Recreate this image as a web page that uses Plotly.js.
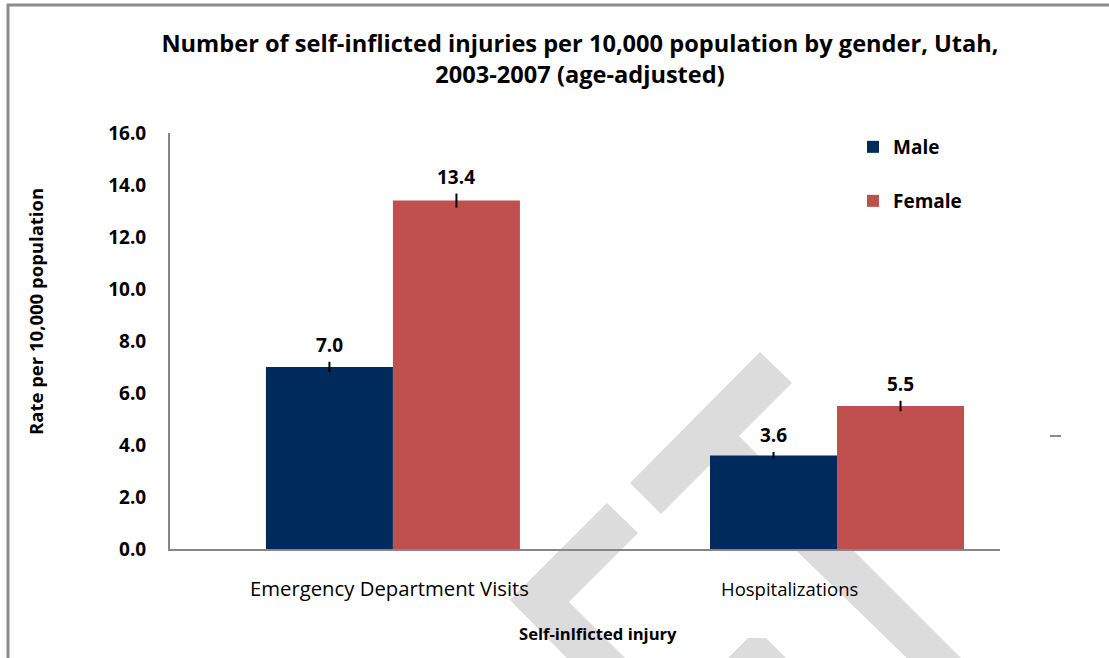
<!DOCTYPE html>
<html>
<head>
<meta charset="utf-8">
<script src="https://cdn.plot.ly/plotly-3.0.1.min.js"></script>
<style>
  html, body { margin: 0; padding: 0; background: #ffffff; }
  #chart { width: 1109px; height: 658px; }
</style>
</head>
<body>
<div id="chart"></div>
<script>
// ---- data ----
const categories = ["Emergency Department Visits", "Hospitalizations"];
const seriesNames = ["Male", "Female"];
const maleValues = [7.0, 3.6];
const femaleValues = [13.4, 5.5];
const maleErrors = [0.2, 0.13];
const femaleErrors = [0.27, 0.2];
const yTickValues = [0, 2, 4, 6, 8, 10, 12, 14, 16];

// ---- layout geometry ----
const W = 1109, H = 658;
const M = { l: 170, r: 109, t: 133, b: 109 };
const PW = W - M.l - M.r, PH = H - M.t - M.b;
const px = x => (x - M.l) / PW;
const py = y => (H - M.b - y) / PH;

const FONT = "'Open Sans', 'Noto Sans', sans-serif";
const maleColor = "#002A5C";
const femaleColor = "#C0504D";
const axisGray = "#868686";
const wmGray = "#dcdcdc";

const traces = [
  {
    type: "bar", name: seriesNames[0], x: categories, y: maleValues,
    marker: { color: maleColor },
    error_y: { type: "data", array: maleErrors, visible: true, color: "#000", thickness: 2, width: 0 },
    legend: "legend", hoverinfo: "y"
  },
  {
    type: "bar", name: seriesNames[1], x: categories, y: femaleValues,
    marker: { color: femaleColor },
    error_y: { type: "data", array: femaleErrors, visible: true, color: "#000", thickness: 2, width: 0 },
    legend: "legend2", hoverinfo: "y"
  }
];

// value labels above error bars
const annotations = [];
const barHalf = 63.5;
[[maleValues, maleErrors, -1], [femaleValues, femaleErrors, 1]].forEach(([vals, errs, side]) => {
  vals.forEach((v, i) => {
    annotations.push({
      x: categories[i], y: v + errs[i], xref: "x", yref: "y",
      text: v.toFixed(1), showarrow: false, xanchor: "center", yanchor: "bottom",
      xshift: side * barHalf, yshift: 2,
      font: { family: FONT, size: 19, color: "#000", weight: "bold" }
    });
  });
});

// category labels (drawn as annotations to follow reference placement)
const catShift = [-3, -48];
const catSize = [20.3, 18.5];
categories.forEach((c, i) => {
  annotations.push({
    x: c, y: 0, xref: "x", yref: "y", text: c, showarrow: false,
    xanchor: "center", yanchor: "middle", xshift: catShift[i], yshift: -39,
    font: { family: FONT, size: catSize[i], color: "#000" }
  });
});

// axis titles
annotations.push({
  xref: "paper", yref: "paper", x: px(598), y: py(633), text: "Self-inlficted injury",
  showarrow: false, xanchor: "center", yanchor: "middle",
  font: { family: FONT, size: 16.6, color: "#000", weight: "bold" }
});
annotations.push({
  xref: "paper", yref: "paper", x: px(35), y: py(312), text: "Rate per 10,000 population",
  showarrow: false, xanchor: "center", yanchor: "middle", textangle: -90,
  font: { family: FONT, size: 18.5, color: "#000", weight: "bold" }
});

// decorative watermark and frame (pixel outlines converted to paper)
function poly(pts) {
  return "M" + pts.map(p => px(p[0]).toFixed(4) + "," + py(p[1]).toFixed(4)).join("L") + "Z";
}
const wmPolys = [
  [[760, 352], [792, 383], [661, 514], [630, 483]],
  [[704, 461], [734, 431], [1003, 700], [950, 700]],
  [[607, 503], [638, 533], [569, 602], [667, 700], [608, 700], [510, 600]],
  [[748, 638], [766, 638], [800, 672], [714, 672]]
];
const shapes = wmPolys.map(p => ({
  type: "path", path: poly(p), xref: "paper", yref: "paper",
  fillcolor: wmGray, line: { width: 0 }, layer: "below"
}));
shapes.push({ type: "line", xref: "paper", yref: "paper", x0: px(7), x1: px(1112), y0: py(5), y1: py(5), line: { color: "#8c8c8c", width: 3 } });
shapes.push({ type: "line", xref: "paper", yref: "paper", x0: px(8), x1: px(8), y0: py(4), y1: py(662), line: { color: "#8c8c8c", width: 3 } });
shapes.push({ type: "line", xref: "paper", yref: "paper", x0: px(1050), x1: px(1061), y0: py(436), y1: py(436), line: { color: "#8c8c8c", width: 2 } });

const layout = {
  width: W, height: H,
  margin: M,
  paper_bgcolor: "rgba(0,0,0,0)", plot_bgcolor: "rgba(0,0,0,0)",
  barmode: "group", bargap: 0.428, bargroupgap: 0,
  title: {
    text: "Number of self-inflicted injuries per 10,000 population by gender, Utah,<br>2003-2007 (age-adjusted)",
    x: 580 / W, xref: "container", xanchor: "center",
    y: 1 - 52 / H, yref: "container", yanchor: "middle",
    font: { family: FONT, size: 23.6, color: "#000", weight: "bold" }
  },
  xaxis: {
    type: "category", range: [-0.502, 1.367], showticklabels: false,
    showline: true, linecolor: axisGray, linewidth: 2, ticks: "", showgrid: false, zeroline: false
  },
  yaxis: {
    range: [0, 16], tickvals: yTickValues, tickformat: ".1f",
    showline: true, linecolor: axisGray, linewidth: 2, ticks: "", showgrid: false, zeroline: false,
    ticklabelstandoff: 18,
    tickfont: { family: FONT, size: 19, color: "#000", weight: "bold" }
  },
  legend: {
    x: px(853), y: py(128), xanchor: "left", yanchor: "top", bgcolor: "rgba(0,0,0,0)",
    font: { family: FONT, size: 19, color: "#000", weight: "bold" }
  },
  legend2: {
    x: px(853), y: py(182), xanchor: "left", yanchor: "top", bgcolor: "rgba(0,0,0,0)",
    font: { family: FONT, size: 19, color: "#000", weight: "bold" }
  },
  annotations: annotations,
  shapes: shapes,
  showlegend: true
};

Plotly.newPlot("chart", traces, layout, { displayModeBar: false, staticPlot: true });
</script>
</body>
</html>
